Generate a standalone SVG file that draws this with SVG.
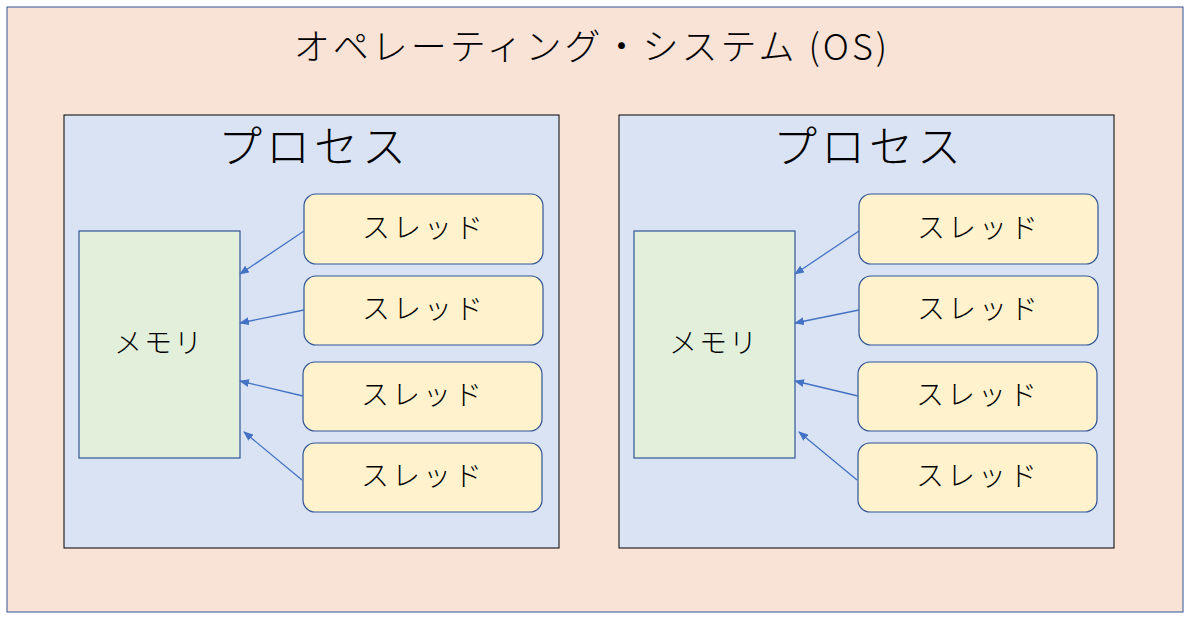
<svg xmlns="http://www.w3.org/2000/svg" width="1200" height="630" viewBox="0 0 1200 630">
<style>
text{font-family:"Noto Sans CJK JP","Open Sans",sans-serif;font-weight:300;fill:#000;text-anchor:middle;dominant-baseline:central}
.os{fill:#f8e3d6;stroke:#2f5597;stroke-width:1}
.proc{fill:#dae3f3;stroke:#000;stroke-width:1}
.mem{fill:#e2efda;stroke:#2f5597;stroke-width:1.2}
.th{fill:#fff2cc;stroke:#2f5597;stroke-width:1.2}
.tt{font-size:28px;letter-spacing:3px}
.mt{font-size:28px;letter-spacing:2px}
.pt{font-size:44px;letter-spacing:4px}
.c line{stroke:#4472c4;stroke-width:1.3;marker-end:url(#a)}
</style>
<defs><marker id="a" markerWidth="10" markerHeight="8" refX="9" refY="4" orient="auto" markerUnits="userSpaceOnUse"><path d="M0,0 L10,4 L0,8 z" fill="#4472c4"/></marker></defs>
<g id="os"><rect class="os" x="7" y="7" width="1176" height="605"/><text x="592" y="44" font-size="36" letter-spacing="3">オペレーティング・システム (OS)</text></g>
<g id="p1"><rect class="proc" x="64" y="115" width="495" height="433"/><text class="pt" x="314" y="144">プロセス</text></g>
<g id="p2"><rect class="proc" x="619" y="115" width="495" height="433"/><text class="pt" x="869" y="144">プロセス</text></g>
<g id="m1"><rect class="mem" x="79" y="231" width="161" height="227"/><text class="mt" x="159" y="341">メモリ</text></g>
<g id="m2"><rect class="mem" x="634" y="231" width="161" height="227"/><text class="mt" x="714" y="341">メモリ</text></g>
<g id="t1a"><rect class="th" x="304" y="194" width="239" height="70" rx="12"/><text class="tt" x="424" y="226">スレッド</text></g>
<g id="t1b"><rect class="th" x="304" y="276" width="239" height="69" rx="12"/><text class="tt" x="424" y="307">スレッド</text></g>
<g id="t1c"><rect class="th" x="303" y="362" width="239" height="69" rx="12"/><text class="tt" x="423" y="393">スレッド</text></g>
<g id="t1d"><rect class="th" x="303" y="443" width="239" height="69" rx="12"/><text class="tt" x="423" y="474">スレッド</text></g>
<g id="t2a"><rect class="th" x="859" y="194" width="239" height="70" rx="12"/><text class="tt" x="979" y="226">スレッド</text></g>
<g id="t2b"><rect class="th" x="859" y="276" width="239" height="69" rx="12"/><text class="tt" x="979" y="307">スレッド</text></g>
<g id="t2c"><rect class="th" x="858" y="362" width="239" height="69" rx="12"/><text class="tt" x="978" y="393">スレッド</text></g>
<g id="t2d"><rect class="th" x="858" y="443" width="239" height="69" rx="12"/><text class="tt" x="978" y="474">スレッド</text></g>
<g class="c" id="connectors">
<line x1="304" y1="231" x2="240" y2="274"/><line x1="304" y1="310" x2="240" y2="323"/><line x1="303" y1="396" x2="240" y2="381"/><line x1="302" y1="480" x2="244" y2="432"/>
<line x1="859" y1="231" x2="795" y2="274"/><line x1="859" y1="310" x2="795" y2="323"/><line x1="858" y1="396" x2="795" y2="381"/><line x1="857" y1="480" x2="799" y2="432"/>
</g>
</svg>
